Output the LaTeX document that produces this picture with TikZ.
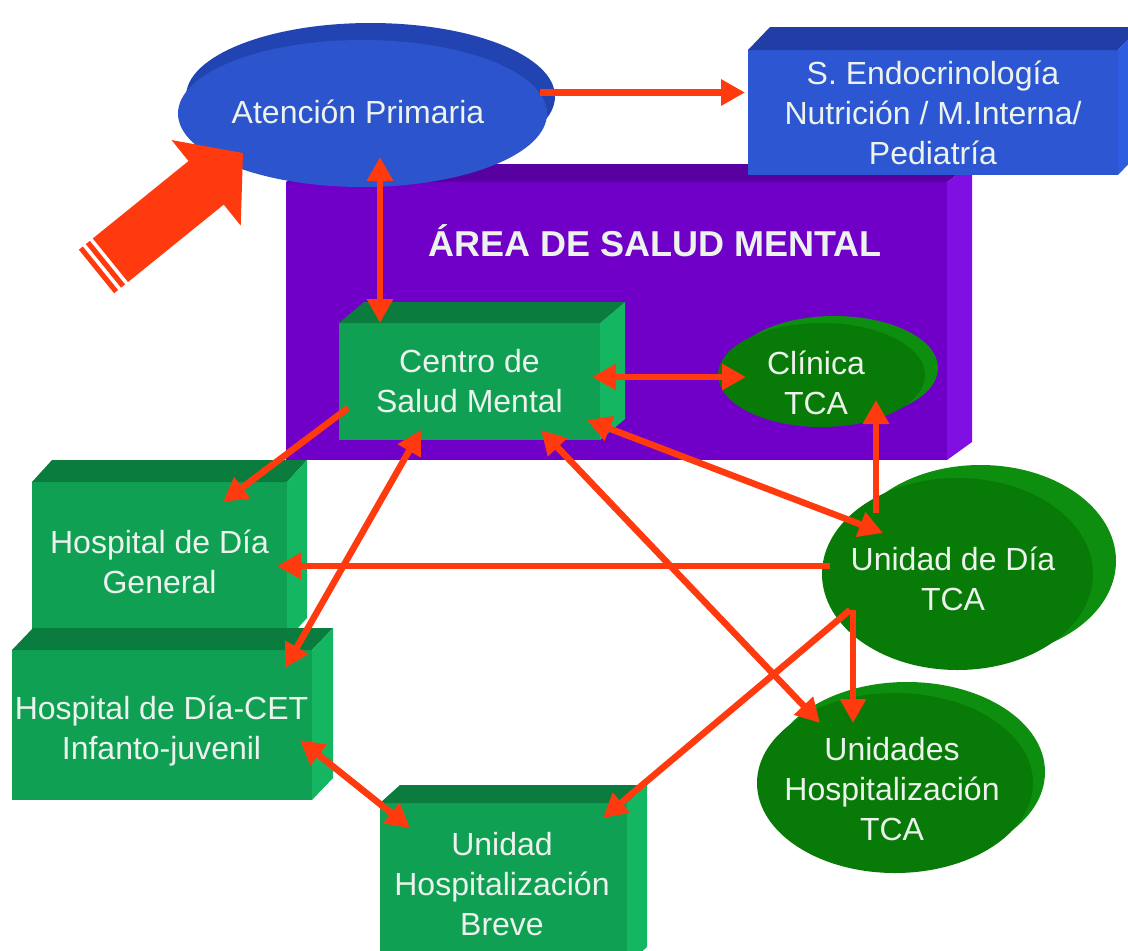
\documentclass[tikz,border=0pt]{standalone}
\usepackage{fontspec}
\setmainfont{Liberation Sans}
\usetikzlibrary{shapes.geometric,arrows.meta,calc}
\definecolor{arr}{RGB}{255,58,14}
\definecolor{txtc}{RGB}{236,242,236}
\definecolor{purF}{RGB}{112,0,200}
\definecolor{purT}{RGB}{88,0,160}
\definecolor{purS}{RGB}{128,16,225}
\definecolor{bluF}{RGB}{44,86,210}
\definecolor{bluT}{RGB}{32,62,165}
\definecolor{bluS}{RGB}{46,92,225}
\definecolor{ablF}{RGB}{44,84,204}
\definecolor{ablB}{RGB}{34,68,178}
\definecolor{grnF}{RGB}{16,160,84}
\definecolor{grnT}{RGB}{10,125,62}
\definecolor{grnS}{RGB}{20,182,98}
\definecolor{dgF}{RGB}{8,122,8}
\definecolor{dgB}{RGB}{14,142,14}
\newcommand{\boxfaces}[5]{%
  \fill[#4] (#1.north west) -- ++(#2,#3) -- ($(#1.north east)+(#2,#3)$) -- (#1.north east) -- cycle;
  \fill[#5] (#1.north east) -- ++(#2,#3) -- ($(#1.south east)+(#2,#3)$) -- (#1.south east) -- cycle;}
\tikzset{
  face/.style={rectangle, inner sep=0pt, outer sep=0pt},
  ell/.style={ellipse, inner sep=0pt, outer sep=0pt},
  txt/.style={text=txtc, font=\fontsize{32}{40}\selectfont, align=center},
  con/.style={draw=arr, line width=6.5pt, line join=round, -{Triangle[length=24pt,width=25pt]}},
  bicon/.style={draw=arr, line width=6.5pt, line join=round, {Triangle[length=24pt,width=25pt]}-{Triangle[length=24pt,width=25pt]}}
}
\begin{document}
\begin{tikzpicture}[x=1pt,y=-1pt]
\useasboundingbox (0,0) rectangle (1128,951);
\clip (0,0) rectangle (1128,951);
\fill[white] (0,0) rectangle (1128,951);

% Area de salud mental
\node[face, fill=purF, minimum width=661pt, minimum height=278pt] (area) at (616.5,321) {};
\boxfaces{area}{25}{-18}{purT}{purS}
\node[text=txtc, font=\bfseries\fontsize{36}{40}\selectfont] (areaT) at (655,241) {ÁREA DE SALUD MENTAL};

% Atencion primaria
\node[ell, fill=ablB, minimum width=369pt, minimum height=147pt] (atenB) at (370.5,96.5) {};
\node[ell, fill=ablF, minimum width=369pt, minimum height=147pt] (aten) at (362.5,113.5) {};
\node[txt] (atenT) at (358,112) {Atención Primaria};

% Endocrinologia
\node[face, fill=bluF, minimum width=370pt, minimum height=125pt, txt] (endo) at (933,112.5) {S. Endocrinología\\Nutrición / M.Interna/\\Pediatría};
\boxfaces{endo}{22}{-23}{bluT}{bluS}

% Centro de salud mental
\node[face, fill=grnF, minimum width=261pt, minimum height=117pt, txt] (centro) at (469.5,381.5) {Centro de\\Salud Mental};
\boxfaces{centro}{25}{-21}{grnT}{grnS}

% Clinica TCA
\node[ell, fill=dgB, minimum width=207pt, minimum height=104pt] (clinB) at (834.5,368) {};
\node[ell, fill=dgF, minimum width=207pt, minimum height=104pt] (clin) at (821.5,375) {};
\node[txt] (clinT) at (816,383) {Clínica\\TCA};

% Hospital de dia general
\node[face, fill=grnF, minimum width=255pt, minimum height=158pt] (hgen) at (159.5,561) {};
\boxfaces{hgen}{20}{-22}{grnT}{grnS}
\node[txt] (hgenT) at (159.5,562) {Hospital de Día\\General};

% Hospital de dia CET
\node[face, fill=grnF, minimum width=300pt, minimum height=150pt] (hcet) at (162,725) {};
\boxfaces{hcet}{21}{-22}{grnT}{grnS}
\node[txt] (hcetT) at (161.5,731) {Hospital de Día-CET\\Infanto-juvenil};

% Unidad hospitalizacion breve
\node[face, fill=grnF, minimum width=247pt, minimum height=162pt] (ubreve) at (503.5,884) {};
\boxfaces{ubreve}{20}{-18}{grnT}{grnS}
\node[txt] (ubreveT) at (502,884) {Unidad\\Hospitalización\\Breve};

% Unidad de dia TCA
\node[ell, fill=dgB, minimum width=271pt, minimum height=192pt] (udiaB) at (980.5,561) {};
\node[ell, fill=dgF, minimum width=271pt, minimum height=192pt] (udia) at (957.5,574) {};
\node[txt] (udiaT) at (953,579) {Unidad de Día\\TCA};

% Unidades hospitalizacion TCA
\node[ell, fill=dgB, minimum width=276pt, minimum height=180pt] (uhospB) at (907,772) {};
\node[ell, fill=dgF, minimum width=276pt, minimum height=180pt] (uhosp) at (895,783) {};
\node[txt] (uhospT) at (892,789) {Unidades\\Hospitalización\\TCA};

% connectors
\draw[con] ($(aten.east)+(-7,-21)$) -- ($(endo.west)+(-3,-20)$);
\draw[bicon] ($(aten.center)+(17.5,43.5)$) -- ($(centro.north)+(-89.5,0)$);
\draw[bicon] ($(centro.east)+(-8,-4.5)$) -- ($(clin.west)+(28,2)$);
\draw[con] ($(centro.west)+(9,26.5)$) -- ($(hgen.north)+(63.5,20)$);
\draw[con] ($(udia.west)+(8,-8)$) -- ($(hgen.east)+(-10,5)$);
\draw[bicon] ($(centro.south)+(-48.5,-10)$) -- ($(hcet.north east)+(-27,18)$);
\draw[bicon] ($(hcet.east)+(-12,15)$) -- ($(ubreve.north west)+(30,25)$);
\draw[bicon] ($(centro.south)+(71.5,-10)$) -- ($(uhosp.center)+(-75,-60)$);
\draw[bicon] ($(centro.south east)+(-13,-20)$) -- ($(udia.center)+(-74.5,-41)$);
\draw[con] ($(udia.center)+(-81.5,-61)$) -- ($(clin.center)+(54.5,25)$);
\draw[con] ($(udia.center)+(-104.5,36)$) -- ($(uhosp.center)+(-42,-60)$);
\draw[con] ($(udia.center)+(-107.5,36)$) -- ($(ubreve.north east)+(-24,15)$);

% big entry arrow
\begin{scope}[shift={(96.5,271.5)}, rotate=38.97]
  \fill[arr] (0,-28) -- (141,-28) -- (141,-55) -- (188.4,0) -- (141,55) -- (141,28) -- (0,28) -- cycle;
  \draw[white, line width=3.5pt] (7,-30) -- (7,30);
  \draw[white, line width=3.5pt] (16,-30) -- (16,30);
\end{scope}
\end{tikzpicture}
\end{document}
